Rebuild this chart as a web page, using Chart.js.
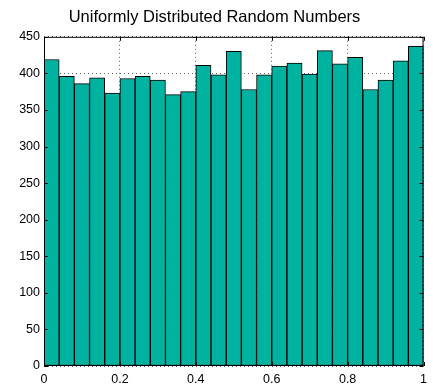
<!DOCTYPE html>
<html>
<head>
<meta charset="utf-8">
<script src="https://cdn.jsdelivr.net/npm/chart.js@4"></script>
<style>
  html, body { margin: 0; padding: 0; background: #fff; }
  #wrap { width: 433px; height: 388px; }
</style>
</head>
<body>
<div id="wrap"><canvas id="histChart" width="433" height="388"></canvas></div>
<script>
// bin centres of the 25 histogram bins on [0, 1]
var binCenters = [0.02, 0.06, 0.10, 0.14, 0.18, 0.22, 0.26, 0.30, 0.34, 0.38,
                  0.42, 0.46, 0.50, 0.54, 0.58, 0.62, 0.66, 0.70, 0.74, 0.78,
                  0.82, 0.86, 0.90, 0.94, 0.98];
var counts = [419, 396, 386, 394, 373, 393, 396, 391, 371, 375,
              411, 398, 430, 378, 398, 410, 414, 399, 431, 413,
              422, 378, 391, 417, 437];
var xTicks = [0, 0.2, 0.4, 0.6, 0.8, 1];
var yTicks = [0, 50, 100, 150, 200, 250, 300, 350, 400, 450];

Chart.defaults.font.family = "'Liberation Sans', Arial, sans-serif";
Chart.defaults.color = '#000';

// solid box round the plot plus small inward tick marks (matlab style)
var frame = {
  id: 'frame',
  afterDraw: function (chart) {
    var c = chart.ctx, a = chart.chartArea;
    var xs = chart.scales.x, ys = chart.scales.y;
    c.save();
    c.strokeStyle = '#000';
    c.lineWidth = 1;
    c.strokeRect(a.left + 0.5, a.top + 0.5, a.right - a.left - 1, a.bottom - a.top - 1);
    c.beginPath();
    xTicks.forEach(function (v) {
      var px = Math.round(xs.getPixelForValue(v)) + 0.5;
      c.moveTo(px, a.bottom); c.lineTo(px, a.bottom - 4);
      c.moveTo(px, a.top); c.lineTo(px, a.top + 4);
    });
    yTicks.forEach(function (v) {
      var py = Math.round(ys.getPixelForValue(v)) + 0.5;
      c.moveTo(a.left, py); c.lineTo(a.left + 4, py);
      c.moveTo(a.right, py); c.lineTo(a.right - 4, py);
    });
    c.stroke();
    c.restore();
  }
};

var ctx = document.getElementById('histChart').getContext('2d');
var histChart = new Chart(ctx, {
  type: 'bar',
  data: {
    datasets: [{
      label: 'counts',
      data: binCenters.map(function (x, i) { return { x: x, y: counts[i] }; }),
      backgroundColor: 'rgb(0,179,160)',
      borderColor: '#000',
      borderWidth: 1,
      borderSkipped: false,
      barPercentage: 1.0,
      categoryPercentage: 1.0
    }]
  },
  options: {
    responsive: false,
    animation: false,
    layout: { padding: { right: 4 } },
    plugins: {
      legend: { display: false },
      tooltip: { enabled: false },
      title: {
        display: true,
        text: 'Uniformly Distributed Random Numbers',
        font: { size: 16.5, weight: 'normal' },
        color: '#000',
        padding: { top: 8, bottom: 9 }
      }
    },
    scales: {
      x: {
        type: 'linear',
        min: 0,
        max: 1,
        offset: false,
        afterBuildTicks: function (s) { s.ticks = xTicks.map(function (v) { return { value: v }; }); },
        afterFit: function (s) { s.height = 22; },
        ticks: {
          font: { size: 12.5 }, padding: 6, maxRotation: 0,
          callback: function (v) { return String(Math.round(v * 10) / 10); }
        },
        grid: { offset: false, color: '#666', drawTicks: false },
        border: { display: false, dash: [1, 3] }
      },
      y: {
        min: 0,
        max: 450,
        afterBuildTicks: function (s) { s.ticks = yTicks.map(function (v) { return { value: v }; }); },
        afterFit: function (s) { s.width = 44; },
        ticks: { font: { size: 12.5 }, padding: 4 },
        grid: { color: '#666', drawTicks: false },
        border: { display: false, dash: [1, 3] }
      }
    }
  },
  plugins: [frame]
});
</script>
</body>
</html>
